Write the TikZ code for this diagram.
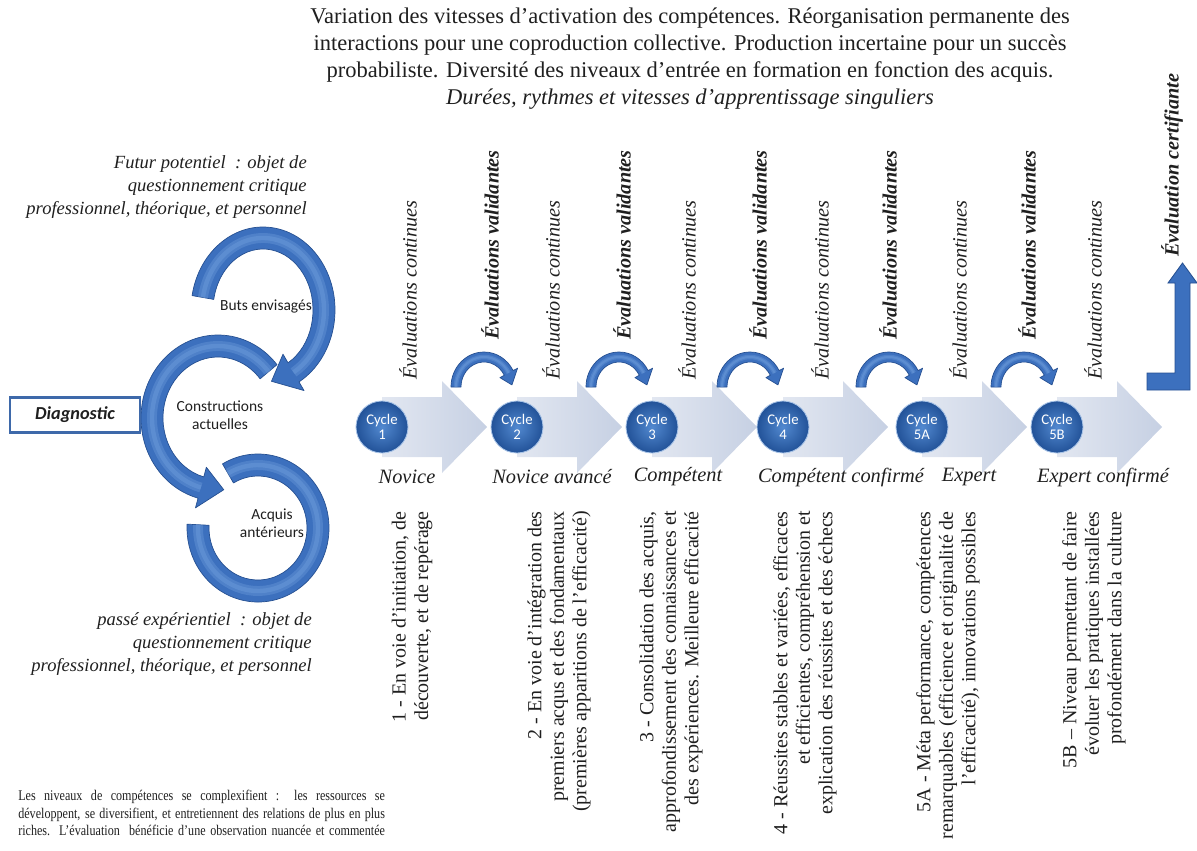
\documentclass[tikz,border=0pt]{standalone}
\usepackage{fontspec}
\setmainfont{Liberation Serif}
\newfontfamily\calfont{Carlito}
\usepackage{tikz}
\usetikzlibrary{arrows.meta,backgrounds}

\definecolor{ringblue}{RGB}{60,112,190}
\definecolor{ringdark}{RGB}{38,80,145}
\definecolor{ringlight}{RGB}{125,170,228}
\definecolor{flowgrey}{RGB}{198,208,227}
\definecolor{flowlight}{RGB}{226,231,241}
\definecolor{cycdark}{RGB}{34,82,152}
\definecolor{cyclight}{RGB}{82,137,208}
\definecolor{boxblue}{RGB}{62,105,170}

% ring arrow: shift, x radius, y radius, half width, start, end, head angle, head overhang
\newcommand{\ringarrow}[8]{%
  \begin{scope}[shift={#1}]
    \filldraw[fill=ringblue, draw=ringdark, line width=0.5pt, line join=round]
      (#5:#2+#4 and #3+#4) arc[start angle=#5, end angle=#6, x radius=#2+#4, y radius=#3+#4]
      -- (#6:#2+#4+#8 and #3+#4+#8) -- ({#6+(#7)}:#2 and #3)
      -- (#6:#2-#4-#8 and #3-#4-#8) -- (#6:#2-#4 and #3-#4)
      arc[start angle=#6, end angle=#5, x radius=#2-#4, y radius=#3-#4] -- cycle;
    \draw[ringlight, opacity=0.3, line width=0.9*#4*0.71pt] (#5:#2 and #3) arc[start angle=#5, end angle=#6, x radius=#2, y radius=#3];
    \draw[ringlight, opacity=0.3, line width=0.4*#4*0.71pt] (#5:#2 and #3) arc[start angle=#5, end angle=#6, x radius=#2, y radius=#3];
  \end{scope}}

\begin{document}
\begin{tikzpicture}[x=0.025cm, y=0.025cm, every node/.style={inner sep=0pt, text=black!88},
  cyc/.style={circle, minimum size=37pt, inner color=cyclight, outer color=cycdark, draw=cyclight!50!white, line width=0.6pt, text=white, align=center, font=\calfont\fontsize{10.5}{11}\selectfont},
  ringlbl/.style={align=center, font=\calfont\fontsize{11}{13}\selectfont},
  evcont/.style={rotate=90, anchor=west, font=\itshape\fontsize{14.4}{16}\selectfont},
  evval/.style={rotate=90, anchor=west, font=\bfseries\itshape\fontsize{14.4}{16}\selectfont},
  level/.style={font=\itshape\fontsize{14.5}{16}\selectfont},
  desc/.style={rotate=90, anchor=east, align=right, font=\fontsize{14.2}{16}\selectfont},
  side/.style={anchor=north east, align=right, font=\itshape\fontsize{13.2}{16.4}\selectfont}]
\useasboundingbox (0,0) rectangle (1197,-850);

\node[anchor=north, align=center, font=\fontsize{16}{19.2}\selectfont] (intro) at (690,-8) {Variation des vitesses d’activation des compétences. Réorganisation permanente des\\ interactions pour une coproduction collective. Production incertaine pour un succès\\ probabiliste. Diversité des niveaux d’entrée en formation en fonction des acquis.\\ \textit{Durées, rythmes et vitesses d’apprentissage singuliers}};

\ringarrow{(258,-528)}{60}{63}{11}{120}{-183}{0}{0}
\ringarrow{(218,-418)}{66}{72}{11}{40}{255}{20}{10}
\ringarrow{(263,-310)}{61}{72}{11}{170}{-60}{-22}{10}
\node[ringlbl] (buts) at (266,-307) {Buts envisagés};
\node[ringlbl] (constr) at (220,-415) {Constructions\\actuelles};
\node[ringlbl] (acquis) at (272,-523) {Acquis\\antérieurs};
\node[draw=boxblue, line width=1.6pt, fill=white, minimum width=92pt, minimum height=25pt, font=\calfont\bfseries\itshape\fontsize{13}{15}\selectfont] (diag) at (75,-415) {Diagnostic};

\node[side] (futur) at (307,-155) {Futur potentiel~~: objet de\\questionnement critique\\professionnel, théorique, et personnel};
\node[side] (passe) at (312,-612) {passé expérientiel~~: objet de\\questionnement critique\\professionnel, théorique, et personnel};

\foreach \x/\lab [count=\i] in {382/1,517/2,652/3,783/4,922/5A,1057/5B}
  \node[cyc] (c\i) at (\x,-427) {Cycle\\\lab};
\begin{scope}[on background layer]
  \foreach \i in {1,...,6}
    \shade[left color=flowlight, right color=flowgrey, shift={(c\i.center)}] (0,30) -- (60,30) -- (60,46) -- (105,0) -- (60,-46) -- (60,-30) -- (0,-30) -- cycle;
\end{scope}
\foreach \j in {2,...,6}{
  \begin{scope}[shift={(c\j.center)}]
    \ringarrow{(-33,40)}{28}{30}{5}{180}{28}{-24}{5}
  \end{scope}}

\foreach \x [count=\i] in {408,551,687,820,958,1093}
  \node[evcont] (ec\i) at (\x,-380) {Évaluations continues};
\foreach \x [count=\i] in {490,622,758,888,1027}
  \node[evval] (ev\i) at (\x,-340) {Évaluations validantes};
\node[evval] (cert) at (1172,-257) {Évaluation certifiante};
\filldraw[fill=ringblue, draw=ringdark, line width=0.6pt] (1147,-373) -- (1175,-373) -- (1175,-283) -- (1168,-283) -- (1182.5,-263) -- (1197,-283) -- (1190,-283) -- (1190,-390) -- (1147,-390) -- cycle;

\foreach \x/\t [count=\i] in {407/Novice, 552/Novice avancé, 678/Compétent, 841/Compétent confirmé, 969/Expert, 1103/Expert confirmé}
  \node[level] (lv\i) at (\x,-477) {\t};

\node[desc] (d1) at (412,-511) {1 - En voie d’initiation, de\\découverte, et de repérage};
\node[desc] (d2) at (559,-511) {2 - En voie d’intégration des\\premiers acqus et des fondamentaux\\(premières apparitions de l’efficacité)};
\node[desc] (d3) at (671,-511) {3 - Consolidation des acquis,\\approfondissement des connaissances et\\des expériences. Meilleure efficacité};
\node[desc] (d4) at (805,-511) {4 - Réussites stables et variées, efficaces\\et efficientes, compréhension et\\explication des réussites et des échecs};
\node[desc] (d5) at (948,-511) {5A - Méta performance, compétences\\remarquables (efficience et originalité de\\l’efficacité), innovations possibles};
\node[desc] (d6) at (1094,-511) {5B – Niveau permettant de faire\\évoluer les pratiques installées\\profondément dans la culture};

\node[anchor=north west] (note) at (18,-790) {\scalebox{0.82}[1]{\parbox{318pt}{\fontsize{10.5}{12.5}\selectfont
  \makebox[\linewidth][s]{Les niveaux de compétences se complexifient : les ressources se}\\
  \makebox[\linewidth][s]{développent, se diversifient, et entretiennent des relations de plus en plus}\\
  \makebox[\linewidth][s]{riches. L’évaluation \ bénéficie d’une observation nuancée et commentée}}}};
\end{tikzpicture}
\end{document}
